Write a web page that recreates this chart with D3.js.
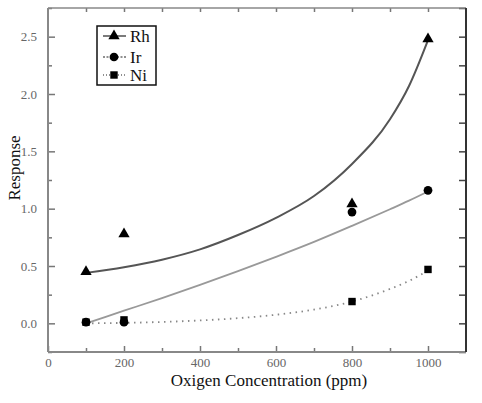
<!DOCTYPE html>
<html>
<head>
<meta charset="utf-8">
<style>
  body { margin: 0; background: #fff; }
  svg text { font-family: "Liberation Serif", "DejaVu Serif", serif; }
  .tick text { fill: #666; font-size: 13px; }
</style>
</head>
<body>
<script src="https://d3js.org/d3.v7.min.js"></script>
<script>
// measured points
var concentration = [100, 200, 800, 1000];
var rhValues = [0.45, 0.78, 1.04, 2.48];
var irValues = [0.01, 0.01, 0.97, 1.16];
var niValues = [0.01, 0.03, 0.19, 0.47];

// fitted curves
var fitX = [100, 200, 300, 400, 500, 600, 700, 800, 900, 950, 1000];
var rhFit = [0.44, 0.49, 0.555, 0.645, 0.77, 0.92, 1.11, 1.39, 1.78, 2.07, 2.47];
var irFit = [0.00, 0.11, 0.22, 0.335, 0.455, 0.58, 0.71, 0.85, 0.995, 1.07, 1.15];
var niFit = [0.00, 0.004, 0.012, 0.025, 0.045, 0.075, 0.12, 0.19, 0.30, 0.37, 0.46];

var xTicks = [0, 200, 400, 600, 800, 1000];
var yTicks = [0.0, 0.5, 1.0, 1.5, 2.0, 2.5];
var seriesNames = ["Rh", "Ir", "Ni"];

var W = 482, H = 403;
var margin = {top: 8, right: 16, bottom: 51, left: 48};

var svg = d3.select("body").append("svg")
    .attr("width", W)
    .attr("height", H);

var x = d3.scaleLinear().domain([0, 1100]).range([margin.left, W - margin.right]);
var y = d3.scaleLinear().domain([-0.25, 2.75]).range([H - margin.bottom, margin.top]);

var x0 = x(0), x1 = x(1100), yb = y(-0.25), yt = y(2.75);

// axes, ticks point inward
var minorX = d3.range(100, 1100, 100);
var minorY = d3.range(-0.25, 2.76, 0.25);

var bottom = svg.append("g").attr("transform", "translate(0," + yb + ")")
    .call(d3.axisBottom(x).tickValues(xTicks).tickSize(-6).tickPadding(6).tickFormat(d3.format("d")));
bottom.selectAll(".tick line").attr("stroke", "#777").attr("stroke-width", 1.5);
svg.append("g").attr("transform", "translate(0," + yb + ")")
    .call(d3.axisBottom(x).tickValues(minorX.filter(function(d) { return d % 200; })).tickSize(-4).tickFormat(""))
    .selectAll(".tick line").attr("stroke", "#777").attr("stroke-width", 1.5);

var left = svg.append("g").attr("transform", "translate(" + x0 + ",0)")
    .call(d3.axisLeft(y).tickValues(yTicks).tickSize(-7).tickPadding(11).tickFormat(d3.format(".1f")));
left.selectAll(".tick line").attr("stroke", "#777").attr("stroke-width", 1.5);
svg.append("g").attr("transform", "translate(" + x0 + ",0)")
    .call(d3.axisLeft(y).tickValues(minorY.filter(function(d) { return Math.abs((d * 2) % 1) > 0.01; })).tickSize(-4).tickFormat(""))
    .selectAll(".tick line").attr("stroke", "#777").attr("stroke-width", 1.5);

svg.append("g").attr("transform", "translate(" + x1 + ",0)")
    .call(d3.axisRight(y).tickValues(minorY).tickSize(-7).tickFormat(""))
    .selectAll(".tick line").attr("stroke", "#444").attr("stroke-width", 1.5);

svg.append("g").attr("transform", "translate(0," + yt + ")")
    .call(d3.axisTop(x).tickValues(minorX).tickSize(-4).tickFormat(""))
    .selectAll(".tick line").attr("stroke", "#777").attr("stroke-width", 1.5);

svg.selectAll(".domain").remove();

// frame
svg.append("line").attr("x1", x0).attr("x2", x0).attr("y1", yt).attr("y2", yb).attr("stroke", "#888").attr("stroke-width", 2);
svg.append("line").attr("x1", x0).attr("x2", x1).attr("y1", yb).attr("y2", yb).attr("stroke", "#888").attr("stroke-width", 2);
svg.append("line").attr("x1", x0).attr("x2", x1).attr("y1", yt).attr("y2", yt).attr("stroke", "#888").attr("stroke-width", 1.5);
svg.append("line").attr("x1", x1).attr("x2", x1).attr("y1", yt).attr("y2", yb).attr("stroke", "#333").attr("stroke-width", 2);

// fitted curves
var line = d3.line().curve(d3.curveMonotoneX)
    .x(function(d) { return x(d[0]); })
    .y(function(d) { return y(d[1]); });

function pairs(xs, ys) { return xs.map(function(v, i) { return [v, ys[i]]; }); }

svg.append("path").datum(pairs(fitX, rhFit)).attr("d", line)
    .attr("fill", "none").attr("stroke", "#555").attr("stroke-width", 2);
svg.append("path").datum(pairs(fitX, irFit)).attr("d", line)
    .attr("fill", "none").attr("stroke", "#999").attr("stroke-width", 1.8);
svg.append("path").datum(pairs(fitX, niFit)).attr("d", line)
    .attr("fill", "none").attr("stroke", "#888").attr("stroke-width", 1.8)
    .attr("stroke-dasharray", "1.5,4.5");

// markers
var tri = d3.symbol().type(d3.symbolTriangle).size(55);
var circ = d3.symbol().type(d3.symbolCircle).size(60);
var sq = d3.symbol().type(d3.symbolSquare).size(55);

function drawPoints(vals, sym) {
  svg.append("g").selectAll("path").data(pairs(concentration, vals)).join("path")
      .attr("d", sym)
      .attr("transform", function(d) { return "translate(" + x(d[0]) + "," + y(d[1]) + ")"; })
      .attr("fill", "#000");
}
drawPoints(niValues, sq);
drawPoints(irValues, circ);
drawPoints(rhValues, tri);

// legend
var leg = svg.append("g");
leg.append("rect").attr("x", 97).attr("y", 26).attr("width", 59).attr("height", 59)
    .attr("fill", "#fff").attr("stroke", "#111").attr("stroke-width", 1.5);
var legY = [36, 57, 75];
var legDash = [null, "2,1.5", "1,2"];
var legSym = [tri, circ, sq];
seriesNames.forEach(function(name, i) {
  leg.append("line").attr("x1", 103).attr("x2", 126).attr("y1", legY[i]).attr("y2", legY[i])
      .attr("stroke", "#222").attr("stroke-width", 1.2)
      .attr("stroke-dasharray", legDash[i]);
  leg.append("path").attr("d", legSym[i]).attr("transform", "translate(114," + legY[i] + ")").attr("fill", "#000");
  leg.append("text").attr("x", 130).attr("y", legY[i] + 5.5).attr("font-size", 17).attr("fill", "#111").text(name);
});

// axis titles
svg.append("text").attr("x", 269).attr("y", 386).attr("text-anchor", "middle")
    .attr("font-size", 17).attr("fill", "#111").text("Oxigen Concentration (ppm)");
svg.append("text").attr("transform", "translate(20,168) rotate(-90)").attr("text-anchor", "middle")
    .attr("font-size", 17).attr("fill", "#111").text("Response");
</script>
</body>
</html>
